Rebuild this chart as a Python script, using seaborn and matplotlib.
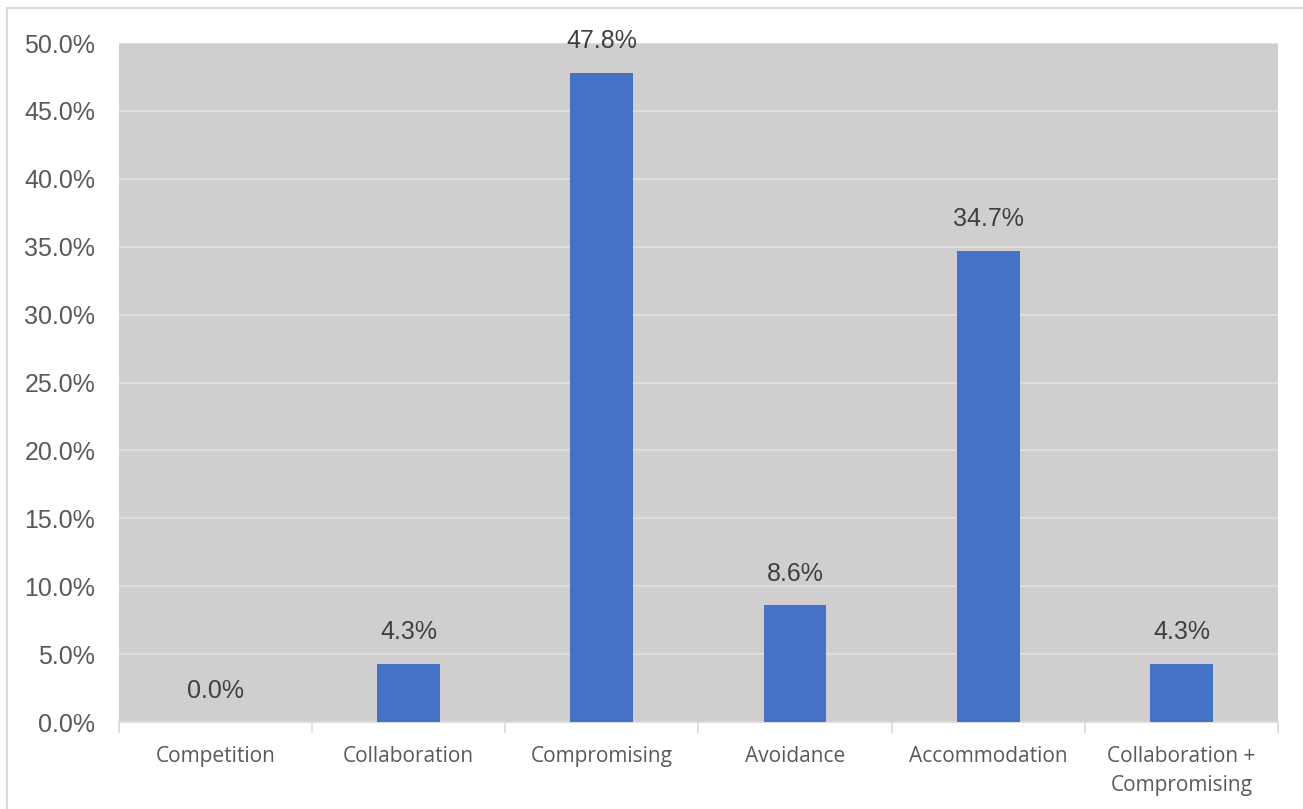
import numpy as np
import pandas as pd
import seaborn as sns
import matplotlib.pyplot as plt
from matplotlib.ticker import PercentFormatter, FixedLocator
from matplotlib.patches import Rectangle

categories = ["Competition", "Collaboration", "Compromising", "Avoidance",
              "Accommodation", "Collaboration +\nCompromising"]
percent = [0.0, 4.3, 47.8, 8.6, 34.7, 4.3]
y_ticks = [0, 5, 10, 15, 20, 25, 30, 35, 40, 45, 50]

df = pd.DataFrame({"style": categories, "pct": percent})

sns.set_style("white")
plt.rcParams['font.family'] = ['Liberation Sans', 'DejaVu Sans']

fig = plt.figure(figsize=(13.03, 8.09), dpi=100)
ax = fig.add_axes([0.0913, 0.1075, 0.9808 - 0.0913, 0.9468 - 0.1075])
ax.set_facecolor("#d0cecf")

sns.barplot(data=df, x="style", y="pct", color="#4472c4", width=0.325,
            saturation=1, edgecolor="none", linewidth=0, ax=ax, zorder=3)

ax.set_ylim(0, 50)
ax.set_xlim(-0.5, len(categories) - 0.5)
ax.yaxis.set_major_locator(FixedLocator(y_ticks))
ax.yaxis.set_major_formatter(PercentFormatter(decimals=1))
ax.grid(axis="y", color="#e2e0e1", linewidth=1.2, zorder=0)
ax.set_axisbelow(True)

ax.set_xlabel("")
ax.set_ylabel("")
ax.tick_params(axis="y", length=0, labelsize=18, labelcolor="#595959", pad=17)
ax.set_xticks(np.arange(len(categories)))
ax.set_xticklabels(categories, fontfamily="Open Sans", fontsize=15,
                   color="#595959", linespacing=1.55)
ax.tick_params(axis="x", which="major", length=0, pad=17)
ax.xaxis.set_minor_locator(FixedLocator(np.arange(-0.5, len(categories), 1.0)))
ax.tick_params(axis="x", which="minor", bottom=True, length=8, width=1.2,
               color="#d9d9d9")

for s in ["top", "right", "left"]:
    ax.spines[s].set_visible(False)
ax.spines["bottom"].set_color("#d9d9d9")
ax.spines["bottom"].set_linewidth(1.2)

for i, v in enumerate(percent):
    ax.annotate(f"{v:.1f}%", (i, v), xytext=(0, 14), textcoords="offset points",
                ha="center", va="bottom", fontsize=18, color="#404040")

fig.patches.append(Rectangle((7 / 1303, -0.05), 1.1, 1 - 8 / 809 + 0.05,
                             transform=fig.transFigure, fill=False,
                             edgecolor="#d9d9d9", linewidth=1.5))

fig.savefig("out.png", dpi=100)
